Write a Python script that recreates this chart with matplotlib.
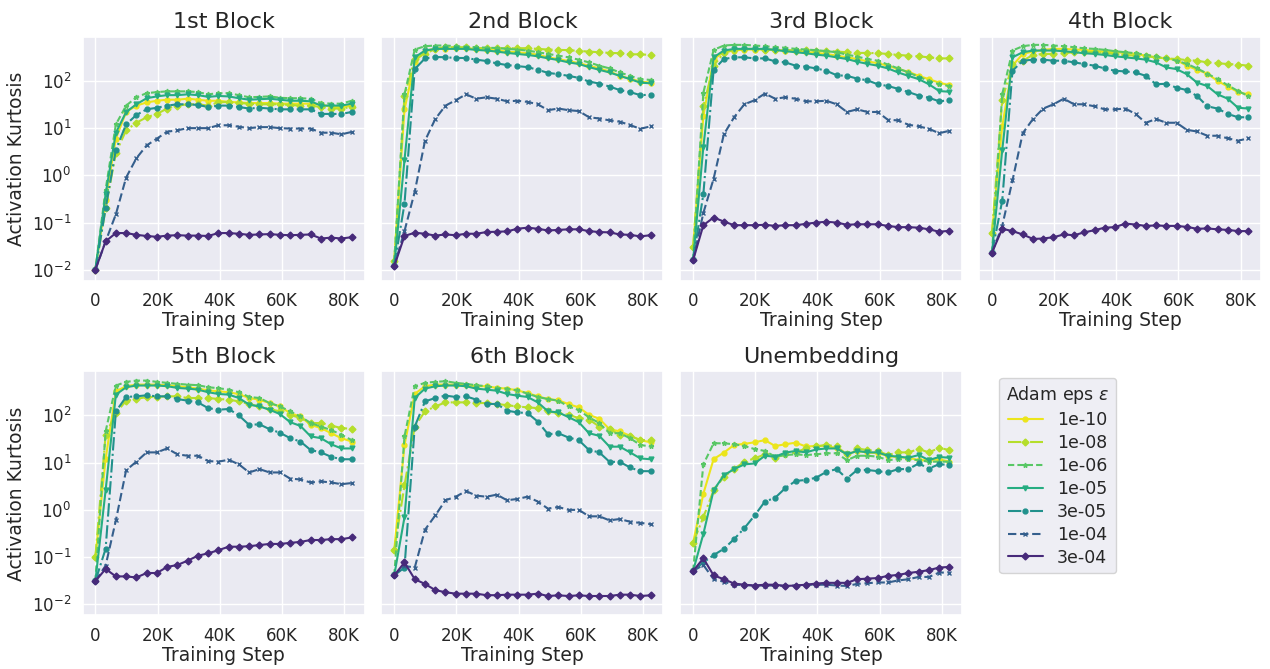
import numpy as np
import matplotlib.pyplot as plt
import seaborn as sns
from matplotlib.ticker import FuncFormatter

# --- Sweep settings ---
eps_labels = ['1e-10', '1e-08', '1e-06', '1e-05', '3e-05', '1e-04', '3e-04']
panel_titles = ['1st Block', '2nd Block', '3rd Block', '4th Block',
                '5th Block', '6th Block', 'Unembedding']
steps = np.arange(26) * 3300

# --- Activation kurtosis per layer (rows follow eps_labels) ---
kurt_block1 = [
    [0.01, 0.3, 6, 22, 30, 35, 38, 40, 40, 42, 40, 38, 38, 36, 35, 34, 34, 34, 33, 33, 33, 33, 32, 28, 28, 30],
    [0.01, 0.2, 3, 9, 13, 17, 20, 26, 30, 32, 32, 30, 35, 36, 34, 33, 32, 32, 32, 31, 30, 30, 28, 26, 26, 28],
    [0.01, 0.5, 12, 30, 45, 55, 58, 60, 60, 60, 58, 52, 55, 55, 50, 45, 46, 47, 44, 43, 43, 42, 34, 33, 33, 38],
    [0.01, 0.4, 8, 22, 32, 43, 47, 50, 50, 52, 50, 46, 48, 47, 43, 40, 41, 42, 40, 38, 38, 37, 30, 30, 30, 33],
    [0.01, 0.2, 3.5, 12, 19, 25, 27, 30, 32, 32, 31, 28, 30, 30, 28, 26, 27, 26, 25, 25, 25, 25, 20, 20, 20, 22],
    [0.01, 0.04, 0.15, 0.9, 2.3, 4.3, 6, 8.4, 9, 10, 10, 10, 11.5, 11.5, 10.7, 10, 10.5, 10.5, 10, 9.8, 9.8, 9.8, 8, 8, 7.4, 8.3],
    [0.01, 0.04, 0.06, 0.06, 0.055, 0.052, 0.05, 0.053, 0.054, 0.053, 0.053, 0.052, 0.06, 0.06, 0.058, 0.055, 0.056, 0.057, 0.055, 0.054, 0.055, 0.056, 0.046, 0.048, 0.046, 0.049],
]
kurt_block2 = [
    [0.015, 25, 247, 440, 477, 485, 493, 493, 477, 462, 440, 418, 405, 386, 360, 316, 290, 265, 237, 210, 184, 159, 128, 112, 97, 92],
    [0.015, 48, 291, 373, 477, 518, 518, 518, 493, 500, 493, 493, 493, 493, 477, 462, 455, 448, 432, 418, 405, 392, 386, 366, 366, 355],
    [0.015, 52, 462, 544, 562, 562, 544, 530, 518, 505, 498, 477, 462, 440, 405, 373, 343, 316, 282, 247, 210, 184, 151, 128, 109, 105],
    [0.012, 2.1, 316, 440, 477, 477, 477, 477, 454, 440, 418, 392, 373, 355, 332, 301, 277, 247, 228, 196, 172, 151, 128, 109, 92, 89],
    [0.012, 0.25, 178, 300, 321, 317, 306, 306, 282, 264, 235, 217, 206, 196, 172, 148, 139, 128, 116, 97, 88, 76, 64, 58, 50, 51],
    [0.012, 0.066, 0.45, 5.4, 15.6, 30, 39, 52, 42, 45, 42, 37, 38, 36, 32, 24, 26, 24, 23, 17, 16, 14.6, 13.7, 11.6, 9.7, 10.9],
    [0.012, 0.052, 0.061, 0.058, 0.053, 0.056, 0.054, 0.058, 0.058, 0.063, 0.064, 0.065, 0.074, 0.078, 0.074, 0.068, 0.07, 0.072, 0.072, 0.066, 0.063, 0.062, 0.056, 0.055, 0.051, 0.054],
]
kurt_block3 = [
    [0.03, 18, 291, 405, 440, 462, 462, 462, 455, 440, 426, 405, 392, 373, 343, 316, 291, 260, 237, 210, 178, 156, 128, 109, 92, 81],
    [0.03, 29, 210, 392, 462, 477, 477, 462, 455, 455, 440, 455, 432, 432, 418, 405, 392, 392, 386, 373, 355, 343, 332, 316, 300, 300],
    [0.016, 56, 455, 562, 580, 580, 562, 544, 518, 505, 477, 462, 448, 426, 405, 360, 327, 291, 268, 222, 184, 151, 122, 100, 85, 78],
    [0.016, 4, 316, 440, 477, 477, 477, 477, 454, 426, 405, 386, 360, 343, 316, 291, 255, 230, 210, 184, 151, 128, 109, 85, 61, 59],
    [0.016, 0.4, 172, 291, 316, 316, 300, 300, 260, 247, 210, 200, 184, 164, 132, 128, 112, 103, 85, 78, 68, 58, 49, 44, 37, 39],
    [0.016, 0.16, 0.85, 7.4, 17, 32, 39, 54, 42, 45, 42, 37, 37, 38, 32, 22, 25, 22, 22, 15, 14.6, 11.8, 10.9, 9.7, 7.8, 8.8],
    [0.016, 0.088, 0.128, 0.105, 0.088, 0.088, 0.088, 0.09, 0.085, 0.088, 0.088, 0.094, 0.1, 0.104, 0.1, 0.09, 0.092, 0.092, 0.092, 0.085, 0.08, 0.08, 0.078, 0.072, 0.064, 0.067],
]
kurt_block4 = [
    [0.061, 11, 210, 373, 420, 455, 477, 477, 462, 455, 432, 418, 405, 392, 373, 343, 316, 300, 277, 210, 172, 143, 100, 76, 58, 52],
    [0.061, 40, 228, 268, 355, 373, 373, 386, 405, 418, 405, 392, 373, 355, 343, 332, 316, 300, 291, 277, 268, 247, 237, 228, 222, 210],
    [0.023, 52, 440, 544, 580, 580, 562, 544, 518, 490, 477, 455, 426, 405, 386, 360, 332, 300, 268, 230, 184, 143, 109, 81, 61, 48],
    [0.023, 3.4, 316, 405, 440, 440, 440, 426, 405, 386, 373, 355, 332, 316, 300, 282, 247, 193, 178, 139, 92, 78, 52, 42, 27, 26],
    [0.023, 0.29, 164, 268, 282, 282, 268, 268, 247, 228, 210, 184, 164, 159, 151, 128, 85, 87, 72, 64, 48, 29, 26, 20, 17, 17],
    [0.023, 0.085, 0.78, 7.8, 15.6, 26, 32, 42, 32, 32, 29, 25, 25, 26, 20, 13, 15.6, 13, 13, 9.2, 8.5, 6.9, 6.9, 6.1, 5.4, 6.1],
    [0.023, 0.074, 0.066, 0.056, 0.045, 0.046, 0.049, 0.056, 0.054, 0.062, 0.069, 0.078, 0.08, 0.095, 0.091, 0.085, 0.087, 0.085, 0.085, 0.081, 0.074, 0.075, 0.072, 0.07, 0.066, 0.066],
]
kurt_block5 = [
    [0.099, 12, 325, 416, 450, 450, 450, 436, 416, 396, 370, 340, 325, 310, 282, 234, 215, 183, 155, 112, 95, 63, 54, 42, 33, 28],
    [0.099, 39, 112, 205, 223, 246, 246, 254, 254, 234, 234, 234, 223, 216, 198, 174, 155, 136, 122, 103, 88, 69, 69, 61, 54, 52],
    [0.031, 46, 430, 514, 547, 547, 514, 490, 466, 450, 436, 396, 377, 352, 310, 246, 234, 183, 155, 122, 95, 69, 58, 49, 39, 30],
    [0.031, 2.6, 276, 395, 430, 430, 430, 416, 383, 370, 352, 310, 285, 276, 234, 169, 155, 132, 107, 72, 60, 36, 33, 24.5, 20, 20],
    [0.031, 0.15, 122, 246, 254, 267, 254, 254, 223, 205, 189, 143, 132, 137, 100, 63, 65, 51, 43, 33, 28, 18.5, 16.5, 13.3, 11.8, 11.8],
    [0.031, 0.066, 0.6, 6.9, 10.5, 16.5, 16.5, 20, 15, 14, 14, 10.8, 10.5, 11.5, 9.2, 6.2, 7.3, 6.2, 6.2, 4.6, 4.4, 3.8, 4, 3.8, 3.5, 3.7],
    [0.031, 0.056, 0.039, 0.039, 0.037, 0.046, 0.046, 0.062, 0.068, 0.084, 0.107, 0.12, 0.14, 0.166, 0.166, 0.17, 0.18, 0.19, 0.19, 0.2, 0.21, 0.23, 0.23, 0.24, 0.24, 0.26],
]
kurt_block6 = [
    [0.14, 23.6, 285, 416, 450, 450, 450, 436, 416, 416, 383, 370, 340, 297, 254, 222, 210, 174, 148, 103, 85, 51, 46, 37, 30, 27],
    [0.14, 3.3, 58, 122, 155, 189, 189, 189, 183, 183, 175, 165, 155, 148, 143, 122, 112, 103, 88, 82, 58, 51, 39, 37, 30, 30],
    [0.041, 36, 416, 490, 515, 530, 490, 466, 436, 416, 383, 370, 340, 290, 246, 222, 205, 155, 130, 91, 69, 42, 42, 33, 23.7, 22],
    [0.041, 0.7, 234, 370, 415, 430, 430, 416, 370, 352, 334, 285, 262, 246, 189, 122, 116, 92, 72, 42, 37, 21.8, 21.8, 16.5, 12.3, 11.8],
    [0.041, 0.06, 58, 198, 234, 263, 246, 254, 216, 175, 175, 126, 116, 112, 74, 40, 42, 34, 30, 18.5, 16.5, 10.4, 10.4, 7.9, 6.6, 6.6],
    [0.041, 0.065, 0.06, 0.38, 0.76, 1.6, 1.9, 2.5, 2.0, 1.9, 2.1, 1.6, 1.7, 1.9, 1.5, 1.06, 1.15, 1.0, 1.0, 0.73, 0.73, 0.6, 0.64, 0.56, 0.53, 0.5],
    [0.041, 0.077, 0.034, 0.027, 0.02, 0.018, 0.0168, 0.0168, 0.0168, 0.0156, 0.0156, 0.016, 0.016, 0.016, 0.0168, 0.015, 0.0155, 0.015, 0.0155, 0.015, 0.015, 0.015, 0.016, 0.016, 0.015, 0.0155],
]
kurt_unembed = [
    [0.2, 2.2, 11.9, 16.3, 23.7, 25, 27, 30, 22.5, 24.5, 26.5, 22, 22.5, 23, 20, 15, 17.7, 16.5, 15.8, 14, 13, 12.7, 11.3, 11.3, 11.8, 10.5],
    [0.2, 0.7, 2.6, 5, 7.3, 10.5, 12.3, 15, 12.7, 15, 16.5, 20, 22, 23.7, 22, 15, 20, 18.5, 17.7, 14.5, 16.5, 16.5, 19.4, 16.5, 20.5, 18.5],
    [0.051, 9.2, 25.7, 25.7, 24.5, 22.5, 19.4, 17.7, 13.4, 14.5, 15, 14.5, 15, 15.8, 15.8, 11.3, 14, 14, 13.4, 11.3, 11.8, 11.8, 11.3, 10.5, 10.5, 10.5],
    [0.051, 0.31, 2.6, 5.4, 7.3, 9.2, 9.6, 14, 13.4, 16.3, 17.7, 16.5, 19, 20, 20, 15, 17.7, 16.5, 16.5, 14, 13.4, 12.7, 14.5, 11.3, 13.2, 12.7],
    [0.051, 0.077, 0.11, 0.15, 0.24, 0.41, 0.76, 1.5, 1.8, 2.9, 4.1, 4.3, 4.8, 6.4, 7.3, 4.6, 7, 7, 6.6, 6.2, 7.3, 7.3, 9.6, 7.5, 9.3, 8.9],
    [0.051, 0.068, 0.034, 0.03, 0.026, 0.0255, 0.025, 0.025, 0.025, 0.0245, 0.025, 0.026, 0.026, 0.026, 0.025, 0.0245, 0.027, 0.028, 0.029, 0.029, 0.032, 0.034, 0.038, 0.038, 0.047, 0.047],
    [0.051, 0.094, 0.041, 0.034, 0.0275, 0.026, 0.025, 0.026, 0.026, 0.0245, 0.025, 0.026, 0.0275, 0.0285, 0.0285, 0.0285, 0.034, 0.035, 0.036, 0.04, 0.042, 0.046, 0.049, 0.053, 0.06, 0.062],
]
panels = [kurt_block1, kurt_block2, kurt_block3, kurt_block4,
          kurt_block5, kurt_block6, kurt_unembed]

# --- Line styling per eps ---
cmap = plt.get_cmap('viridis')
colors = [cmap(v) for v in [0.97, 0.89, 0.74, 0.62, 0.5, 0.3, 0.12]]
linestyles = ['-', '-.', (0, (3, 1.5)), '-', '-.', (0, (4, 1.8)), '-']
markers = ['o', 'D', '*', 'v', 'o', 'x', 'D']

sns.set_theme(style='darkgrid')

fig, axes = plt.subplots(2, 4, figsize=(12.7, 6.69), dpi=100, sharey=True)
fig.subplots_adjust(left=0.065, right=0.993, top=0.945, bottom=0.08,
                    wspace=0.06, hspace=0.37)

k_fmt = FuncFormatter(lambda v, _: '0' if v == 0 else f'{int(v / 1000)}K')

for idx, (ax, title, data) in enumerate(zip(axes.flat, panel_titles, panels)):
    for j, label in enumerate(eps_labels):
        ax.plot(steps, data[j], color=colors[j], linestyle=linestyles[j],
                marker=markers[j], markersize=3.5, linewidth=1.5, label=label)
    ax.set_yscale('log')
    ax.set_title(title, fontsize=16)
    ax.set_xlabel('Training Step', fontsize=13.5, labelpad=1)
    ax.set_xticks([0, 20000, 40000, 60000, 80000])
    ax.xaxis.set_major_formatter(k_fmt)
    ax.tick_params(labelsize=12, pad=2)
    if idx % 4 == 0:
        ax.set_ylabel('Activation Kurtosis', fontsize=13.5)
    ax.yaxis.set_minor_locator(plt.NullLocator())

axes[0, 0].set_ylim(0.0058, 860)

ax_leg = axes.flat[7]
ax_leg.axis('off')
handles, labels = axes.flat[0].get_legend_handles_labels()
ax_leg.legend(handles, labels, title=r'Adam eps $\epsilon$', loc='upper left',
              bbox_to_anchor=(0.04, 1.01), fontsize=12.5, title_fontsize=12.5,
              frameon=True, labelspacing=0.28, handlelength=2.0)

fig.savefig('out.png', dpi=100)
